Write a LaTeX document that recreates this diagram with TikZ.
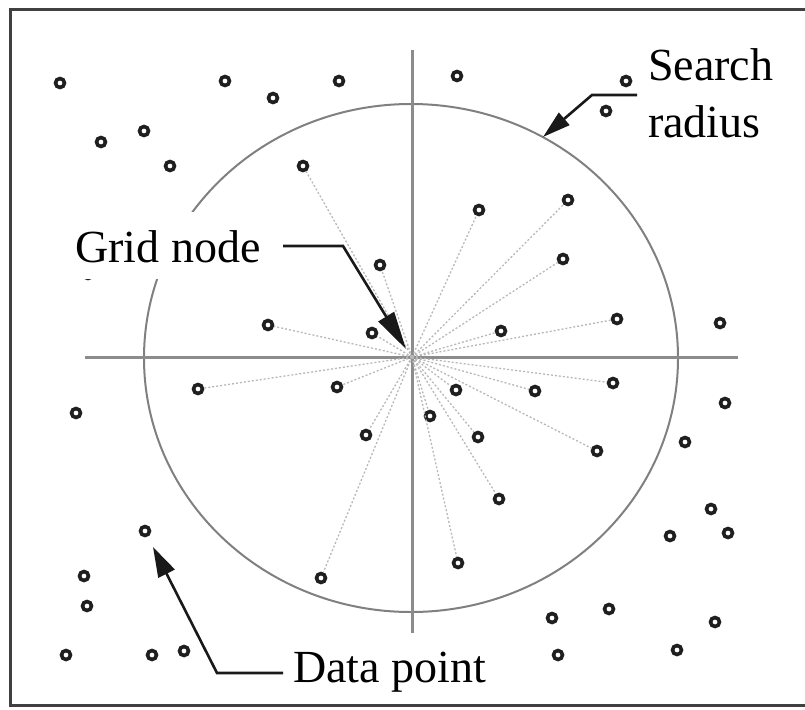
\documentclass[tikz,border=0pt]{standalone}
\usepackage{fontspec}
\setmainfont{Liberation Serif}
\usetikzlibrary{arrows.meta}
\tikzset{
  dotpt/.style={circle, draw=black!88, line width=3.6pt, minimum size=9pt, inner sep=0pt, fill=white},
  ray/.style={draw=black!28, line width=1.3pt, dash pattern=on 2pt off 2pt},
  axis/.style={draw=black!45, line width=3pt},
  rim/.style={draw=black!50, line width=2pt},
  frameline/.style={draw=black!75, line width=3pt},
  leader/.style={draw=black!90, line width=2.6pt, line join=miter},
  lbl/.style={inner sep=0pt, anchor=base west, font=\fontsize{46}{50}\selectfont},
}
\begin{document}
\begin{tikzpicture}[x=1pt,y=-1pt]
\useasboundingbox (0,0) rectangle (805,709);
% frame
\draw[frameline] (805,10) -- (10,10) -- (10,705) -- (805,705);
% search circle
\coordinate (cc) at (411,358);
\draw[rim] (cc) ellipse [x radius=267, y radius=254];
% axes
\coordinate (axl) at (85,357);
\coordinate (axr) at (738,357);
\coordinate (axt) at (412,50);
\coordinate (axb) at (412,633);
\draw[axis] (axl) -- (axr);
\draw[axis] (axt) -- (axb);
% grid node
\coordinate (g) at (412,357);
\fill[black!45] (g) circle (3pt);
% data points inside the search radius
\foreach \n/\px/\py in {i1/303/166, i2/380/265, i3/268/325, i4/372/333, i5/198/389,
  i6/337/387, i7/366/435, i8/321/578, i9/479/210, i10/568/200, i11/563/259,
  i12/501/331, i13/617/319, i14/456/390, i15/430/416, i16/478/437, i17/535/391,
  i18/613/383, i19/597/451, i20/499/499, i21/458/563}{
  \node[dotpt] (\n) at (\px,\py) {};
  \draw[ray] (g) -- (\n);
}
% data points outside the search radius
\foreach \n/\px/\py in {o1/60/83, o2/225/81, o3/273/98, o4/339/81, o5/101/142,
  o6/144/131, o7/170/166, o8/457/76, o9/626/81, o10/606/111, o11/720/323,
  o12/76/413, o13/145/531, o14/84/576, o15/87/606, o16/66/655, o17/152/655,
  o18/184/651, o19/725/403, o20/685/442, o21/711/509, o22/670/536, o23/728/533,
  o24/552/618, o25/609/609, o26/715/622, o27/558/655, o28/677/650, o29/88/274}{
  \node[dotpt] (\n) at (\px,\py) {};
}
% labels
\node[lbl, fill=white, text height=50pt, text depth=17pt] (gridlabel) at (75,262) {Grid node};
\node[lbl] (searchlabel) at (648,80) {Search};
\node[lbl] (radiuslabel) at (648,137) {radius};
\node[lbl] (datalabel) at (293,682) {Data point};
% leaders
\coordinate (gl1) at (283,246);
\coordinate (gl2) at (343,246);
\coordinate (gtip) at (406,349);
\draw[leader, -{Triangle[length=38pt, width=18pt]}] (gl1) -- (gl2) -- (gtip);
\coordinate (sl1) at (637,95);
\coordinate (sl2) at (592,95);
\coordinate (stip) at (543,137);
\draw[leader, -{Triangle[length=28pt, width=16pt]}] (sl1) -- (sl2) -- (stip);
\coordinate (dl1) at (283,673);
\coordinate (dl2) at (217,673);
\coordinate (dtip) at (153,547);
\draw[leader, -{Triangle[length=30pt, width=18pt]}] (dl1) -- (dl2) -- (dtip);
\end{tikzpicture}
\end{document}
